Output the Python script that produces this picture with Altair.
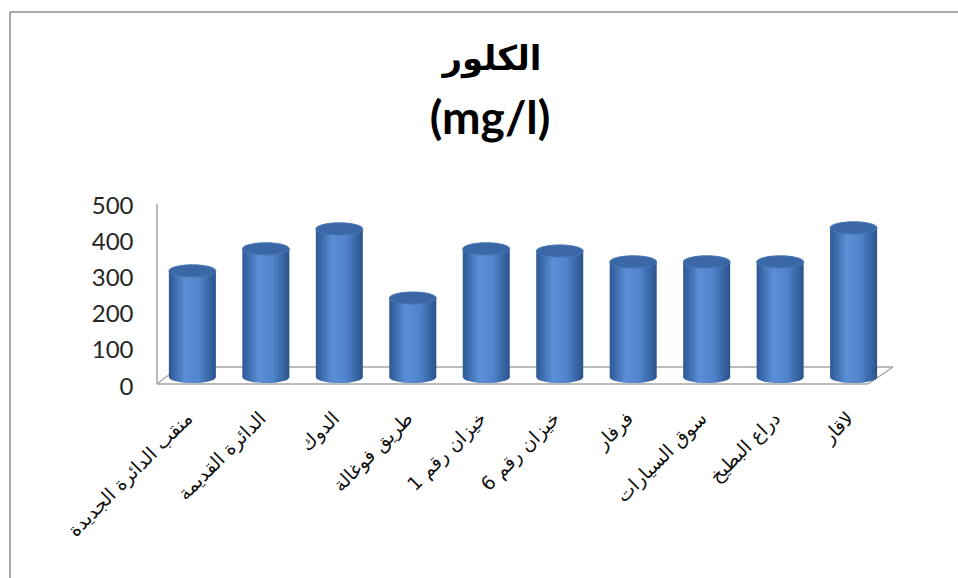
import altair as alt
import pandas as pd

# ---- data ----
categories = [
    "منقب الدائرة الجديدة",
    "الدائرة القديمة",
    "الدوك",
    "طريق فوغالة",
    "خيزان رقم 1",
    "خيزان رقم 6",
    "فرفار",
    "سوق السيارات",
    "دراع البطيخ",
    "لاقار",
]
values = [293, 354, 409, 218, 354, 348, 318, 318, 318, 412]
y_ticks = [0, 100, 200, 300, 400, 500]
title_lines = ["الكلور", "(mg/l)"]

df = pd.DataFrame({"site": categories, "value": values})

# ---- layout ----
LEFT, TOP = 163, 206
W, H = 720, 181
BAR_W = 47
LIFT = -10  # bars sit on the middle of the 3D floor

x_axis = alt.Axis(
    title=None, labelAngle=-45, labelAlign="right", labelBaseline="middle",
    labelFontSize=19, labelFont="DejaVu Sans", labelColor="#111",
    labelPadding=28, labelOffset=-3, domain=False, ticks=False, labelLimit=300,
    labelOverlap=False,
)
y_axis = alt.Axis(
    values=y_ticks, title=None, grid=False, domain=False, ticks=False,
    labelPadding=30, labelFontSize=24, labelFont="Lato", labelColor="#262626",
    labelOverlap=False,
)
x_scale = alt.Scale(paddingOuter=0.05, paddingInner=0.3)
y_scale = alt.Scale(domain=[0, 500])
x_enc = alt.X("site:N", sort=categories, scale=x_scale, axis=x_axis)
y_enc = alt.Y("value:Q", scale=y_scale, axis=y_axis)

body_grad = alt.LinearGradient(
    gradient="linear", x1=0, x2=1, y1=0, y2=0,
    stops=[
        alt.GradientStop(offset=0, color="#2c5894"),
        alt.GradientStop(offset=0.35, color="#5b8fd6"),
        alt.GradientStop(offset=0.65, color="#4f83ca"),
        alt.GradientStop(offset=1, color="#2a538c"),
    ],
)
ellipse = "M -1 0 A 1 0.26 0 1 0 1 0 A 1 0.26 0 1 0 -1 0 Z"

base = alt.Chart(df)

body = base.mark_bar(size=BAR_W, fill=body_grad, yOffset=LIFT, y2Offset=LIFT).encode(
    x=x_enc, y=y_enc, y2=alt.datum(0)
)
bottom = base.mark_point(shape=ellipse, size=BAR_W**2, filled=True, fill=body_grad,
                         opacity=1, strokeWidth=0, yOffset=LIFT).encode(
    x=x_enc, y=alt.value(H)
)
top = base.mark_point(shape=ellipse, size=BAR_W**2, filled=True, fill="#3a67a5",
                      opacity=1, stroke="#4a78b8", strokeWidth=1, yOffset=LIFT).encode(
    x=x_enc, y=y_enc
)

# 3D floor, value-axis line and chart frame (decoration, pixel space of the plot)
one = pd.DataFrame({"k": [0]})
def seg(x1, y1, x2, y2, color="#a6a6a6", w=1.5):
    return alt.Chart(one).mark_rule(color=color, strokeWidth=w).encode(
        x=alt.value(x1), y=alt.value(y1), x2=alt.value(x2), y2=alt.value(y2)
    )

floor = [
    seg(-6, 178, 705, 178),
    seg(16, 161, 730, 161),
    seg(-6, 178, 16, 161),
    seg(705, 178, 730, 161),
    seg(-6, -2, -6, 178),
]
frame = [
    seg(10 - LEFT, 12 - TOP, 1200, 12 - TOP, "#8c8c8c", 1.5),
    seg(10 - LEFT, 12 - TOP, 10 - LEFT, 800, "#8c8c8c", 1.5),
]

t1 = alt.Chart(pd.DataFrame({"t": [title_lines[0]]})).mark_text(
    font="DejaVu Sans", fontWeight="bold", fontSize=34, align="center", baseline="middle", color="#000"
).encode(text="t:N", x=alt.value(492 - LEFT), y=alt.value(60 - TOP))
t2 = alt.Chart(pd.DataFrame({"t": [title_lines[1]]})).mark_text(
    font="Lato", fontWeight="bold", fontSize=46, align="center", baseline="middle", color="#000"
).encode(text="t:N", x=alt.value(490 - LEFT), y=alt.value(120 - TOP))

chart = alt.layer(floor[0], floor[1], floor[2], floor[3], body, bottom, top, floor[4],
                  *frame, t1, t2).properties(
    width=W, height=H,
    autosize=alt.AutoSizeParams(type="none"),
    padding={"left": LEFT, "top": TOP, "right": 958 - LEFT - W, "bottom": 578 - TOP - H},
    background="white",
).configure_view(stroke=None)

chart.save("out.html", embed_options={"renderer": "svg", "actions": False})
